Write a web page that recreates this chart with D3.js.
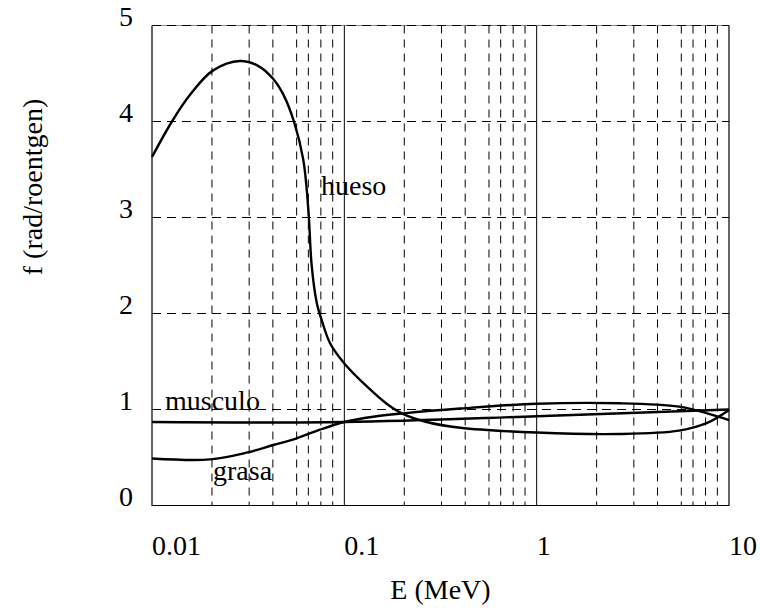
<!DOCTYPE html>
<html lang="es">
  <head>
    <meta charset="utf-8">
    <script type="text/javascript" src="https://cdn.jsdelivr.net/npm/d3@7"></script>
    <style>
      body { margin: 0; background: #fff; }
    </style>
  </head>
  <body>
    <svg id="chart"></svg>
  </body>
  <script type="text/javascript">
    var width = 760;
    var height = 610;
    var margin = {top: 25.5, right: 31, bottom: 104.5, left: 152};
    var font = "'Liberation Serif', 'Times New Roman', Times, 'DejaVu Serif', serif";
    var fontSize = 28;

    // energias (MeV) y factor f
    var huesoE = [0.01, 0.0127, 0.0158, 0.0207, 0.0287, 0.0356, 0.0424, 0.0482, 0.0547, 0.0612, 0.065, 0.0677, 0.0719, 0.0763, 0.0843, 0.1, 0.131, 0.166, 0.199, 0.268, 0.4, 1, 2.7, 5.5, 7.7, 10];
    var huesoF = [3.63, 4.0, 4.28, 4.53, 4.63, 4.58, 4.45, 4.28, 4.0, 3.6, 3.08, 2.49, 2.11, 1.93, 1.69, 1.48, 1.24, 1.06, 0.96, 0.87, 0.81, 0.76, 0.745, 0.78, 0.86, 0.995];

    var grasaE = [0.01, 0.02, 0.031, 0.0427, 0.0565, 0.0747, 0.1, 0.1415, 0.203, 0.4, 1, 2.7, 5.5, 7.7, 10];
    var grasaF = [0.49, 0.48, 0.55, 0.63, 0.70, 0.79, 0.87, 0.925, 0.96, 1.01, 1.06, 1.065, 1.03, 0.96, 0.89];

    var musculoE = [0.01, 0.1, 1, 10];
    var musculoF = [0.87, 0.87, 0.93, 1.0];

    // ticks
    var xTicks = [0.01, 0.1, 1, 10];
    var xTickLabels = ['0.01', '0.1', '1', '10'];
    var yTicks = [0, 1, 2, 3, 4, 5];
    var decades = [0.01, 0.1, 1];
    var minorSteps = [2.05, 3.2, 4.25, 5.65, 6.5, 7.55, 8.7]; // lineas de rejilla dentro de cada decada

    var curves = [
      {name: 'hueso', e: huesoE, f: huesoF, lx: 321, ly: 195},
      {name: 'musculo', e: musculoE, f: musculoF, lx: 165, ly: 410},
      {name: 'grasa', e: grasaE, f: grasaF, lx: 213, ly: 480}
    ];

    var svg = d3.select('#chart').attr('width', width).attr('height', height)
      .attr('font-family', font);

    var x = d3.scaleLog()
      .domain([0.01, 10])
      .range([margin.left, width - margin.right]);
    var y = d3.scaleLinear()
      .domain([0, 5])
      .range([height - margin.bottom, margin.top]);

    var minorGrid = [];
    decades.forEach(function(d){
      minorSteps.forEach(function(m){ minorGrid.push(d * m); });
    });

    // borde superior fino bajo los trazos
    svg.append('line')
      .attr('x1', x(0.01)).attr('x2', x(10))
      .attr('y1', y(5)).attr('y2', y(5))
      .attr('stroke', '#888')
      .attr('stroke-width', 1);

    // rejilla vertical a trazos
    svg.append('g').selectAll('line')
      .data(minorGrid).enter()
      .append('line')
      .attr('x1', function(d){ return x(d); })
      .attr('x2', function(d){ return x(d); })
      .attr('y1', y(5))
      .attr('y2', y(0))
      .attr('stroke', '#000')
      .attr('stroke-width', 1)
      .attr('stroke-dasharray', '8,6');

    // rejilla horizontal a trazos
    svg.append('g').selectAll('line')
      .data([1, 2, 3, 4, 5]).enter()
      .append('line')
      .attr('x1', x(0.01))
      .attr('x2', x(10))
      .attr('y1', function(d){ return y(d); })
      .attr('y2', function(d){ return y(d); })
      .attr('stroke', '#000')
      .attr('stroke-width', 1)
      .attr('stroke-dasharray', '9,6');

    // lineas de decada continuas
    svg.append('g').selectAll('line')
      .data([0.1, 1]).enter()
      .append('line')
      .attr('x1', function(d){ return x(d); })
      .attr('x2', function(d){ return x(d); })
      .attr('y1', y(5))
      .attr('y2', y(0))
      .attr('stroke', '#000')
      .attr('stroke-width', 1);

    // marco
    svg.append('path')
      .attr('d', 'M' + x(0.01) + ',' + y(5) + 'V' + y(0) + 'H' + x(10) + 'V' + y(5))
      .attr('fill', 'none')
      .attr('stroke', '#000')
      .attr('stroke-width', 1.2);

    // curvas
    var line = d3.line()
      .x(function(d){ return x(d[0]); })
      .y(function(d){ return y(d[1]); })
      .curve(d3.curveCatmullRom.alpha(0.5));

    svg.append('g').selectAll('path')
      .data(curves).enter()
      .append('path')
      .attr('d', function(c){ return line(d3.zip(c.e, c.f)); })
      .attr('fill', 'none')
      .attr('stroke', '#000')
      .attr('stroke-width', 2.4);

    svg.append('g').selectAll('text')
      .data(curves).enter()
      .append('text')
      .attr('x', function(c){ return c.lx; })
      .attr('y', function(c){ return c.ly; })
      .attr('font-size', fontSize)
      .text(function(c){ return c.name; });

    // etiquetas de ejes
    svg.append('g').selectAll('text')
      .data(xTicks).enter()
      .append('text')
      .attr('x', function(d){ return x(d); })
      .attr('y', 555)
      .attr('font-size', fontSize)
      .text(function(d, i){ return xTickLabels[i]; });

    svg.append('g').selectAll('text')
      .data(yTicks).enter()
      .append('text')
      .attr('x', 126)
      .attr('y', function(d){ return y(d); })
      .attr('text-anchor', 'middle')
      .attr('font-size', fontSize)
      .text(function(d){ return d; });

    svg.append('text')
      .attr('x', (x(0.01) + x(10)) / 2)
      .attr('y', 599)
      .attr('text-anchor', 'middle')
      .attr('font-size', fontSize)
      .text('E (MeV)');

    svg.append('text')
      .attr('transform', 'translate(42,187) rotate(-90)')
      .attr('text-anchor', 'middle')
      .attr('font-size', fontSize)
      .text('f (rad/roentgen)');
  </script>
</html>
